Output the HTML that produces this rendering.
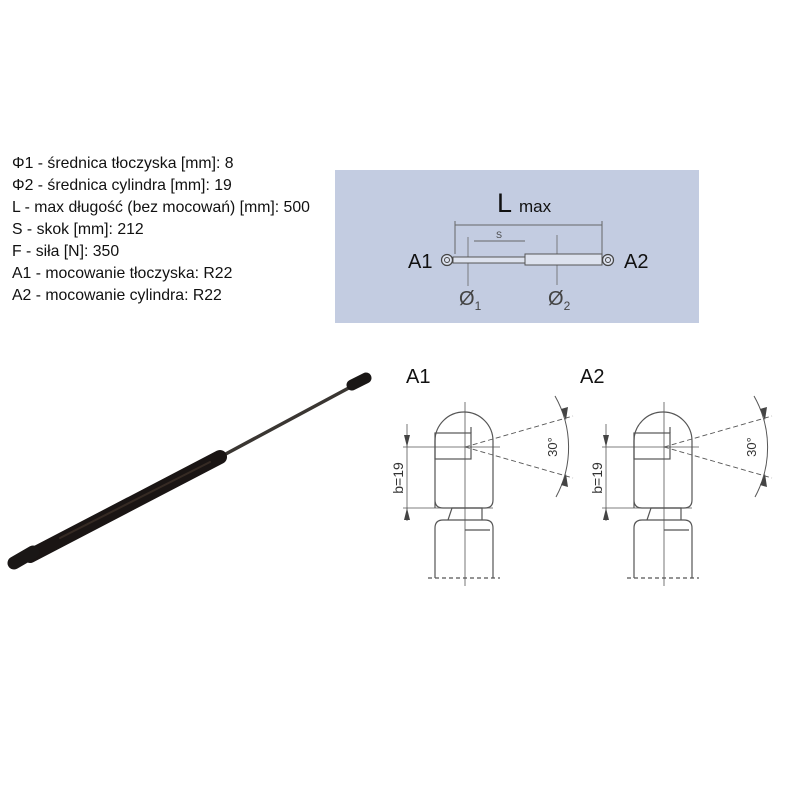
<!DOCTYPE html>
<html><head><meta charset="utf-8"><style>
html,body{margin:0;padding:0;background:#fff;}
body{width:800px;height:800px;position:relative;overflow:hidden;font-family:"Liberation Sans",sans-serif;}
.t{position:absolute;left:12px;font-size:15.8px;color:#111;white-space:nowrap;}
</style></head><body>
<div class="t" style="top:155px">Φ1 - średnica tłoczyska [mm]: 8</div>
<div class="t" style="top:177px">Φ2 - średnica cylindra [mm]: 19</div>
<div class="t" style="top:199px">L - max długość (bez mocowań) [mm]: 500</div>
<div class="t" style="top:221px">S - skok [mm]: 212</div>
<div class="t" style="top:243px">F - siła [N]: 350</div>
<div class="t" style="top:265px">A1 - mocowanie tłoczyska: R22</div>
<div class="t" style="top:287px">A2 - mocowanie cylindra: R22</div>
<svg width="800" height="800" style="position:absolute;left:0;top:0" font-family="Liberation Sans, sans-serif">
<defs>
<g id="m" fill="none" stroke="#555" stroke-width="1.2">
 <path d="M435,508 V441 A29,29 0 0 1 493,441 V500 Q493,508 485,508 H443 Q435,508 435,500" fill="#fff"/>
 <rect x="435" y="433" width="36" height="26"/>
 <line x1="471" y1="427" x2="471" y2="433"/>
 <path d="M448,520 L452,508 H482 V520"/>
 <path d="M435,578 V528 Q435,520 443,520 H485 Q493,520 493,528 V578" fill="#fff"/>
 <line x1="465" y1="530" x2="490" y2="530"/>
 <line x1="428" y1="578" x2="500" y2="578" stroke-dasharray="4,3"/>
 <line x1="465" y1="402" x2="465" y2="586" stroke-width="0.8"/>
 <line x1="403" y1="447" x2="500" y2="447" stroke-width="0.8"/>
 <line x1="403" y1="508" x2="493" y2="508" stroke-width="0.8"/>
 <line x1="407" y1="424" x2="407" y2="521" stroke-width="0.8"/>
 <path d="M404,435 L407,447 L410,435 Z M404,520 L407,508 L410,520 Z" fill="#444" stroke="none"/>
 <line x1="465" y1="447" x2="573" y2="416" stroke-dasharray="5,3" stroke-width="0.9"/>
 <line x1="465" y1="447" x2="573" y2="478" stroke-dasharray="5,3" stroke-width="0.9"/>
 <path d="M555,396 A104,104 0 0 1 556,497" stroke-width="1"/>
 <path d="M561,409 L566,420 L568,407 Z M561,485 L566,474 L568,487 Z" fill="#444" stroke="none"/>
 <text x="0" y="0" transform="translate(403,478) rotate(-90)" text-anchor="middle" font-size="14" fill="#333" stroke="none">b=19</text>
 <text x="0" y="0" transform="translate(557,447) rotate(-90)" text-anchor="middle" font-size="13" fill="#333" stroke="none">30°</text>
</g>
</defs>
<rect x="335" y="170" width="364" height="153" fill="#c3cce1"/>
<g stroke="#666" fill="none">
 <text x="497" y="212" font-size="27" fill="#111" stroke="none">L</text>
 <text x="519" y="212" font-size="17" fill="#111" stroke="none">max</text>
 <line x1="455" y1="225" x2="602" y2="225"/>
 <line x1="455" y1="221" x2="455" y2="254"/>
 <line x1="602" y1="221" x2="602" y2="254"/>
 <line x1="474" y1="241" x2="525" y2="241"/>
 <text x="496" y="238" font-size="9" fill="#444" stroke="none">S</text>
 <line x1="468" y1="237" x2="468" y2="286" stroke-width="0.8"/>
 <line x1="557" y1="235" x2="557" y2="285" stroke-width="0.8"/>
 <rect x="453" y="257" width="72" height="6" fill="#dde2ee" stroke="#555"/>
 <rect x="525" y="254" width="77" height="11" fill="#dde2ee" stroke="#555"/>
 <circle cx="447" cy="260" r="5.5" fill="#dde2ee" stroke="#444" stroke-width="1.2"/><circle cx="447" cy="260" r="2.5" stroke="#444"/>
 <circle cx="608" cy="260" r="5.5" fill="#dde2ee" stroke="#444" stroke-width="1.2"/><circle cx="608" cy="260" r="2.5" stroke="#444"/>
 <text x="408" y="268" font-size="20" fill="#111" stroke="none">A1</text>
 <text x="624" y="268" font-size="20" fill="#111" stroke="none">A2</text>
 <text x="459" y="305" font-size="20" fill="#444" stroke="none">Ø<tspan font-size="12" dy="5">1</tspan></text>
 <text x="548" y="305" font-size="20" fill="#444" stroke="none">Ø<tspan font-size="12" dy="5">2</tspan></text>
</g>
<text x="406" y="383" font-size="20" fill="#111">A1</text>
<text x="580" y="383" font-size="20" fill="#111">A2</text>
<use href="#m"/>
<use href="#m" transform="translate(199,0)"/>
<g stroke-linecap="round">
 <line x1="222" y1="456" x2="358" y2="383" stroke="#3a3632" stroke-width="3.5"/>
 <line x1="30" y1="556" x2="220" y2="457" stroke="#1a1514" stroke-width="14"/>
 <line x1="60" y1="538" x2="210" y2="462" stroke="#4a3a30" stroke-width="2" opacity="0.6"/>
 <line x1="14" y1="563" x2="33" y2="552" stroke="#1a1716" stroke-width="13"/>
 <line x1="352" y1="385" x2="366" y2="378" stroke="#1a1716" stroke-width="11"/>
</g>
</svg>
</body></html>
